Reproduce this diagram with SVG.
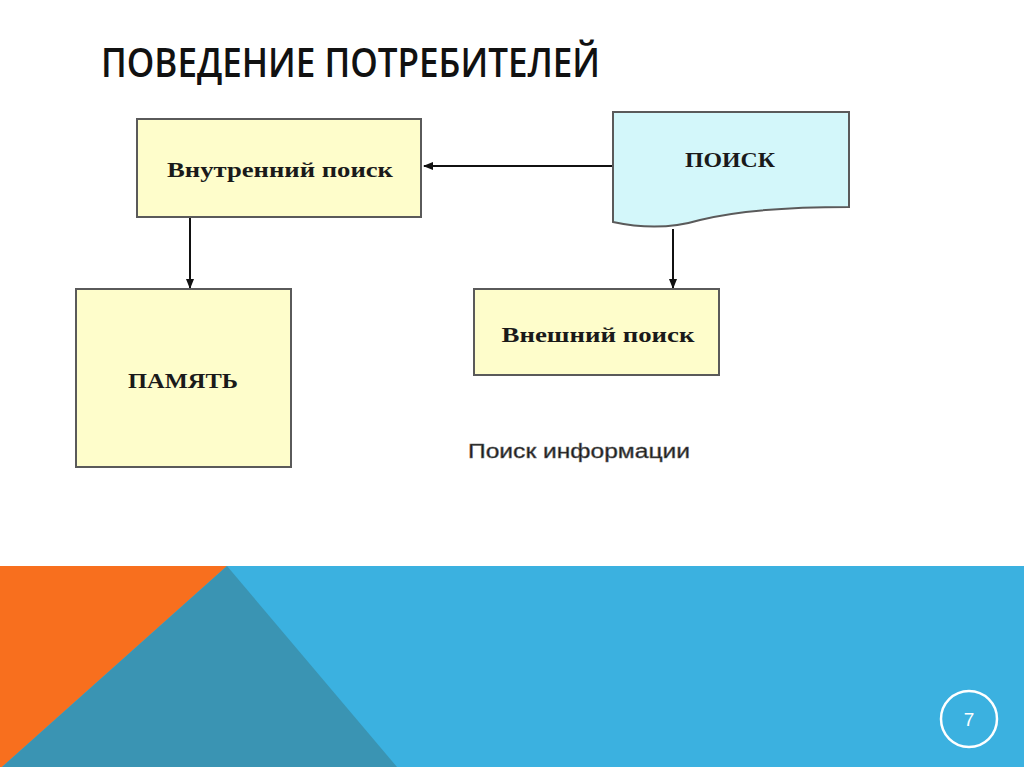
<svg xmlns="http://www.w3.org/2000/svg" width="1024" height="767" viewBox="0 0 1024 767">
<defs>
<style>
.box{fill:#FEFDCB;stroke:#5a5a5a;stroke-width:2}
.doc{fill:#D3F7FA;stroke:#5a5a5a;stroke-width:2}
.lbl{font-family:"Liberation Serif",serif;font-weight:bold;font-size:21px;fill:#1a1a1a;text-anchor:middle}
.conn{stroke:#111;stroke-width:2;fill:none;marker-end:url(#ah)}
</style>
<marker id="ah" markerWidth="10" markerHeight="8" refX="9" refY="4" orient="auto" markerUnits="userSpaceOnUse">
<path d="M0,0 L10,4 L0,8 Z" fill="#111"/>
</marker>
</defs>
<rect x="0" y="0" width="1024" height="767" fill="#ffffff"/>
<text x="101" y="77" font-family="'Open Sans','Liberation Sans',sans-serif" font-weight="600" font-size="40" fill="#111" textLength="499" lengthAdjust="spacingAndGlyphs">ПОВЕДЕНИЕ ПОТРЕБИТЕЛЕЙ</text>

<g id="connectors">
<line class="conn" x1="612" y1="166" x2="424" y2="166"/>
<line class="conn" x1="190" y1="218" x2="190" y2="288"/>
<line class="conn" x1="673" y1="229" x2="673" y2="288"/>
</g>

<g id="node-vnutr">
<rect class="box" x="137" y="119" width="284" height="98"/>
<text class="lbl" x="280" y="177" textLength="226" lengthAdjust="spacingAndGlyphs">Внутренний поиск</text>
</g>
<g id="node-poisk">
<path class="doc" d="M613,112 L849,112 L849,207 C800,207 740,210 700,220 C680,226 650,230 613,222 Z"/>
<text class="lbl" x="730" y="167" textLength="90" lengthAdjust="spacingAndGlyphs">ПОИСК</text>
</g>
<g id="node-pamyat">
<rect class="box" x="76" y="289" width="215" height="178"/>
<text class="lbl" x="183" y="388" textLength="110" lengthAdjust="spacingAndGlyphs">ПАМЯТЬ</text>
</g>
<g id="node-vneshn">
<rect class="box" x="474" y="289" width="245" height="86"/>
<text class="lbl" x="598" y="342" textLength="193" lengthAdjust="spacingAndGlyphs">Внешний поиск</text>
</g>

<text x="468" y="458" font-family="'Liberation Sans',sans-serif" font-size="20" fill="#1a1a1a" stroke="#666" stroke-width="0.5" textLength="222" lengthAdjust="spacingAndGlyphs">Поиск  информации</text>

<g id="footer">
<rect x="0" y="566" width="1024" height="201" fill="#3BB1E0"/>
<polygon points="0,566 227,566 2,767 0,767" fill="#F86F1E"/>
<polygon points="227,566 397,767 2,767" fill="#3A94B3"/>
<circle cx="969" cy="719" r="28" fill="none" stroke="#ffffff" stroke-width="2.5"/>
<text x="969" y="726" font-family="'Liberation Sans',sans-serif" font-size="19" fill="#ffffff" text-anchor="middle">7</text>
</g>
</svg>
